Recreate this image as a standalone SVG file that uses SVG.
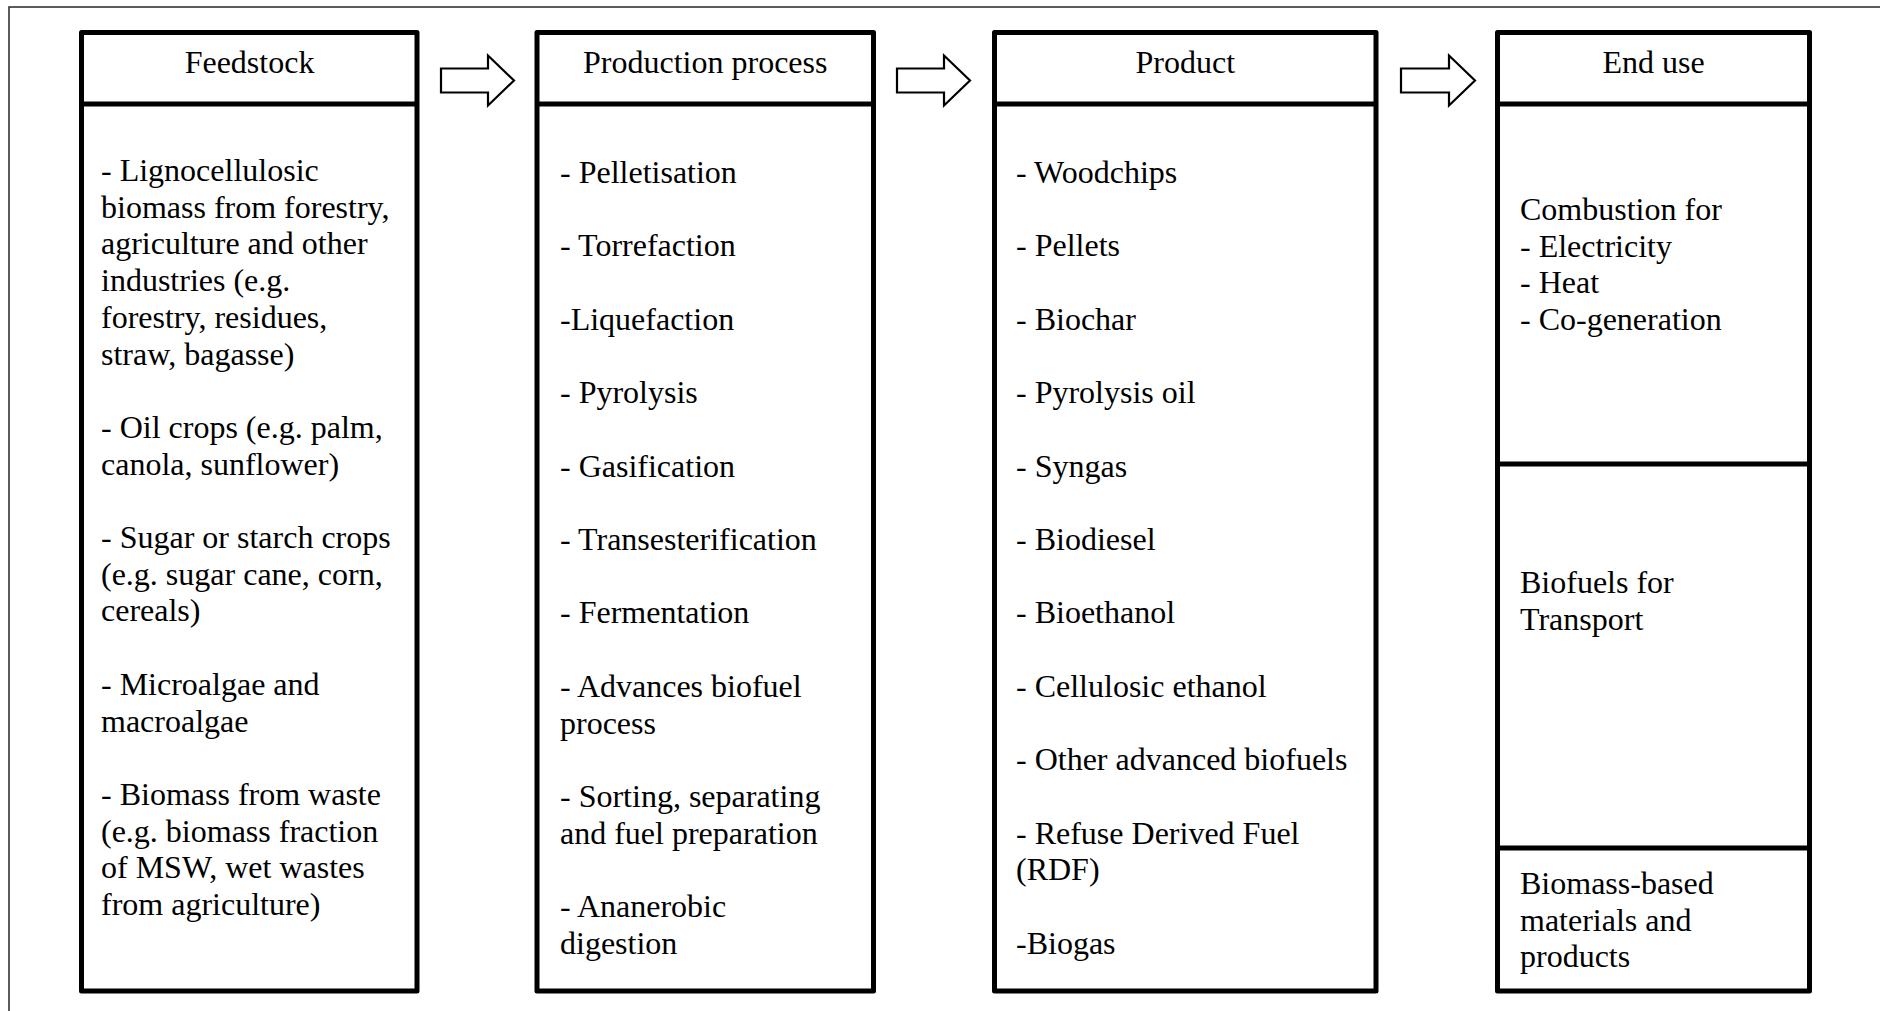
<svg xmlns="http://www.w3.org/2000/svg" width="1880" height="1011" viewBox="0 0 1880 1011">
<style>
.frame{fill:none;stroke:#333;stroke-width:1.6}
.box{fill:#fff;stroke:#000;stroke-width:5;stroke-linejoin:round}
.div{stroke:#000;stroke-width:5}
.arrow{fill:#fff;stroke:#000;stroke-width:2.2;stroke-linejoin:miter}
text{font-family:"Liberation Serif","Times New Roman",serif;font-size:32px;fill:#000}
.h{text-anchor:middle}
</style>
<rect width="1880" height="1011" fill="#fff"/>
<rect class="frame" x="9" y="7" width="1890" height="1020"/>
<g id="connectors">
<path class="arrow" d="M441,68.5 H488 V55.5 L514,80.5 L488,105.5 V92.5 H441 Z"/>
<path class="arrow" d="M897,68.5 H944 V55.5 L970,80.5 L944,105.5 V92.5 H897 Z"/>
<path class="arrow" d="M1401,68.5 H1449 V55.5 L1475,80.5 L1449,105.5 V92.5 H1401 Z"/>
</g>
<g id="feedstock">
<rect class="box" x="81.5" y="32.5" width="335.5" height="958.5"/>
<line class="div" x1="81.5" y1="104" x2="417" y2="104"/>
<text class="h" x="249.5" y="73">Feedstock</text>
<text x="101" y="181">- Lignocellulosic</text>
<text x="101" y="217.7">biomass from forestry,</text>
<text x="101" y="254.4">agriculture and other</text>
<text x="101" y="291.1">industries (e.g.</text>
<text x="101" y="327.8">forestry, residues,</text>
<text x="101" y="364.5">straw, bagasse)</text>
<text x="101" y="437.9">- Oil crops (e.g. palm,</text>
<text x="101" y="474.6">canola, sunflower)</text>
<text x="101" y="548">- Sugar or starch crops</text>
<text x="101" y="584.7">(e.g. sugar cane, corn,</text>
<text x="101" y="621.4">cereals)</text>
<text x="101" y="694.8">- Microalgae and</text>
<text x="101" y="731.5">macroalgae</text>
<text x="101" y="804.9">- Biomass from waste</text>
<text x="101" y="841.6">(e.g. biomass fraction</text>
<text x="101" y="878.3">of MSW, wet wastes</text>
<text x="101" y="915">from agriculture)</text>
</g>
<g id="production">
<rect class="box" x="537" y="32.5" width="336.5" height="958.5"/>
<line class="div" x1="537" y1="104" x2="873.5" y2="104"/>
<text class="h" x="705.25" y="73">Production process</text>
<text x="560" y="183">- Pelletisation</text>
<text x="560" y="256.4">- Torrefaction</text>
<text x="560" y="329.8">-Liquefaction</text>
<text x="560" y="403.2">- Pyrolysis</text>
<text x="560" y="476.6">- Gasification</text>
<text x="560" y="550">- Transesterification</text>
<text x="560" y="623.4">- Fermentation</text>
<text x="560" y="696.8">- Advances biofuel</text>
<text x="560" y="733.5">process</text>
<text x="560" y="806.9">- Sorting, separating</text>
<text x="560" y="843.6">and fuel preparation</text>
<text x="560" y="917">- Ananerobic</text>
<text x="560" y="953.7">digestion</text>
</g>
<g id="product">
<rect class="box" x="994.5" y="32.5" width="381.5" height="958.5"/>
<line class="div" x1="994.5" y1="104" x2="1376" y2="104"/>
<text class="h" x="1185.25" y="73">Product</text>
<text x="1016" y="183">- Woodchips</text>
<text x="1016" y="256.4">- Pellets</text>
<text x="1016" y="329.8">- Biochar</text>
<text x="1016" y="403.2">- Pyrolysis oil</text>
<text x="1016" y="476.6">- Syngas</text>
<text x="1016" y="550">- Biodiesel</text>
<text x="1016" y="623.4">- Bioethanol</text>
<text x="1016" y="696.8">- Cellulosic ethanol</text>
<text x="1016" y="770.2">- Other advanced biofuels</text>
<text x="1016" y="843.6">- Refuse Derived Fuel</text>
<text x="1016" y="880.3">(RDF)</text>
<text x="1016" y="953.7">-Biogas</text>
</g>
<g id="enduse">
<rect class="box" x="1497.5" y="32.5" width="312" height="958.5"/>
<line class="div" x1="1497.5" y1="104" x2="1809.5" y2="104"/>
<line class="div" x1="1497.5" y1="464" x2="1809.5" y2="464"/>
<line class="div" x1="1497.5" y1="848" x2="1809.5" y2="848"/>
<text class="h" x="1653.5" y="73">End use</text>
<text x="1520" y="220">Combustion for</text>
<text x="1520" y="256.7">- Electricity</text>
<text x="1520" y="293.4">- Heat</text>
<text x="1520" y="330.1">- Co-generation</text>
<text x="1520" y="593">Biofuels for</text>
<text x="1520" y="629.7">Transport</text>
<text x="1520" y="894">Biomass-based</text>
<text x="1520" y="930.7">materials and</text>
<text x="1520" y="967.4">products</text>
</g>
</svg>
